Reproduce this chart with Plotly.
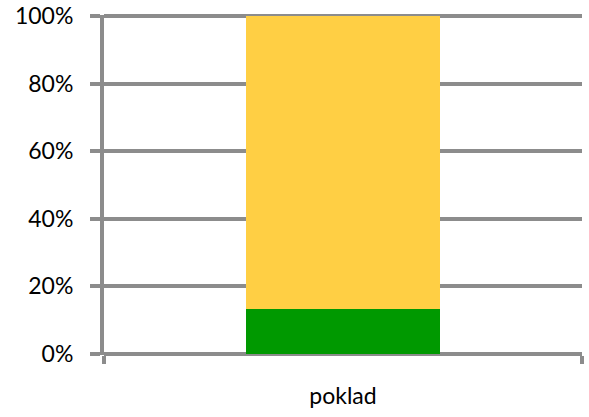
import plotly.graph_objects as go

categories = ["poklad"]
green_vals = [0.132]
yellow_vals = [0.868]
tick_vals = [0, 0.2, 0.4, 0.6, 0.8, 1.0]
tick_text = ["0%", "20%", "40%", "60%", "80%", "100%"]

grid = "#8c8c8c"
fig = go.Figure()
fig.add_trace(go.Bar(x=categories, y=green_vals, marker_color="#009900", width=0.404, marker_line_width=0))
fig.add_trace(go.Bar(x=categories, y=yellow_vals, marker_color="#ffcf44", width=0.404, marker_line_width=0))

fig.update_layout(
    barmode="stack",
    width=589, height=417,
    margin=dict(l=104, r=7, t=15, b=62, autoexpand=False),
    plot_bgcolor="white", paper_bgcolor="white",
    showlegend=False,
    font=dict(family="Lato, Open Sans, sans-serif", size=23, color="#000000"),
)
fig.update_yaxes(
    range=[-0.003, 1.003], tickvals=tick_vals, ticktext=tick_text,
    showgrid=True, gridcolor=grid, gridwidth=4,
    ticks="outside", ticklen=10, tickwidth=4, tickcolor=grid,
    showline=True, linecolor=grid, linewidth=4,
    zeroline=False, ticklabelstandoff=12, automargin=False,
    ticklabeloverflow="allow",
)
fig.update_xaxes(
    ticks="outside", tickson="boundaries", ticklen=8, tickwidth=4, tickcolor=grid,
    showline=False, showgrid=False, ticklabelstandoff=25, automargin=False,
)
fig.write_html("out.html", config={"displayModeBar": False},
               post_script="document.body.style.margin='0';")
